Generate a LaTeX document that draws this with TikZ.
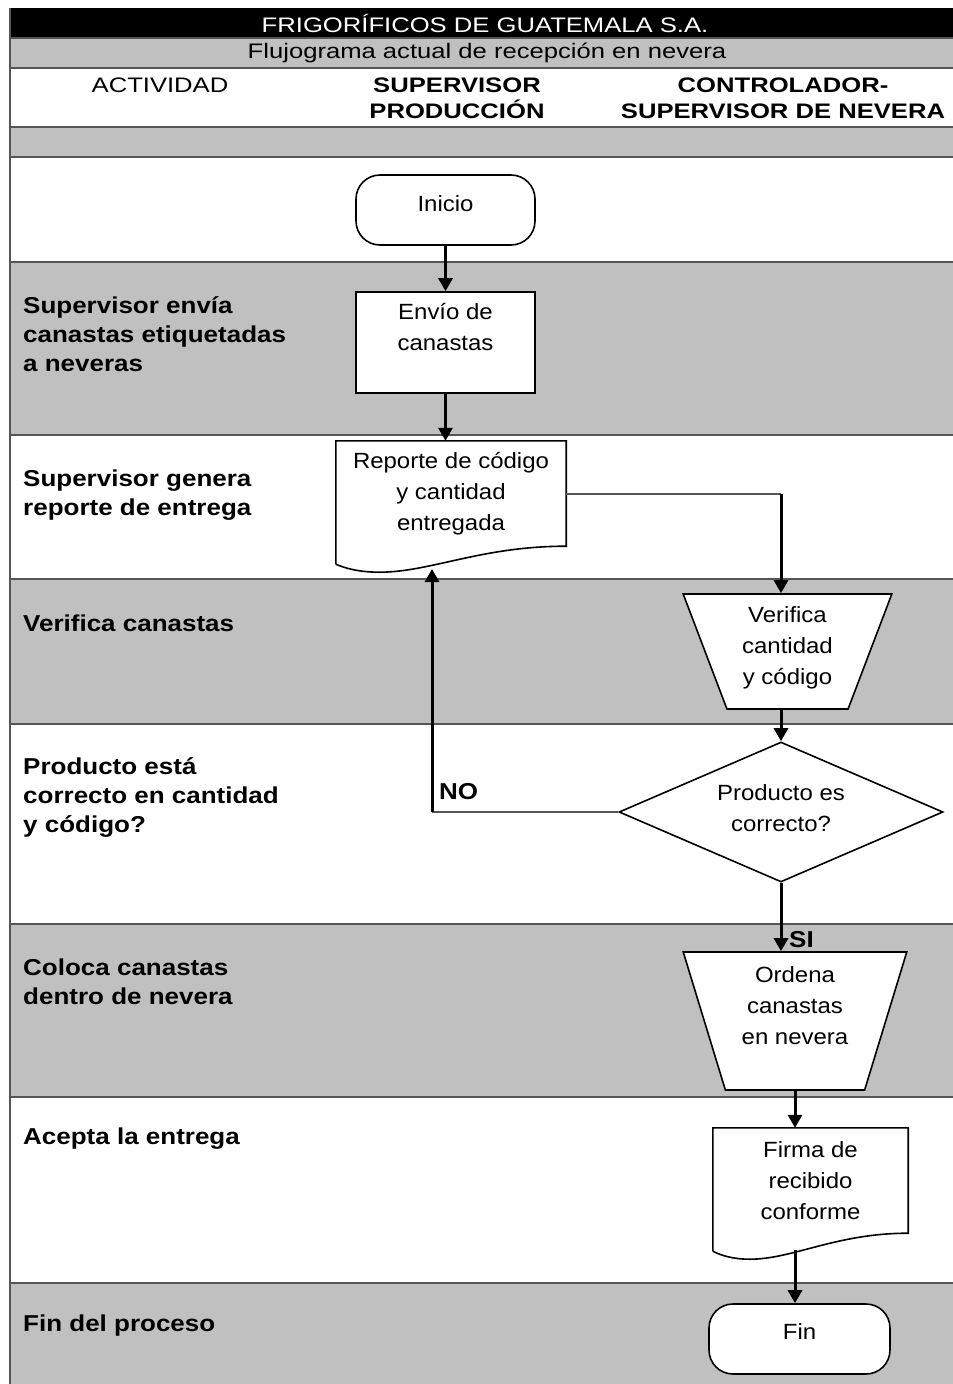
\documentclass[tikz,border=0pt]{standalone}
\usepackage{fontspec}
\setmainfont{Liberation Sans}
\newfontfamily\headFont[FakeStretch=1.22]{Liberation Sans}
\newfontfamily\actFont[FakeStretch=1.13]{Liberation Sans}
\newfontfamily\boxFont[FakeStretch=1.09]{Liberation Sans}
\usetikzlibrary{calc,arrows.meta,shapes.geometric}
\definecolor{rowGray}{RGB}{192,192,192}
\definecolor{ruleGray}{RGB}{85,85,85}
\newcommand{\DocOutline}[1]{%
  \draw[shapeline] ($(#1.south west)+(0,18)$) -- (#1.north west) -- (#1.north east) -- (#1.south east)
    .. controls ($(#1.south west)!0.63!(#1.south east)$) and ($(#1.south west)!0.41!(#1.south east)+(0,26)$)
    .. ($(#1.south west)!0.19!(#1.south east)+(0,26)$)
    .. controls ($(#1.south west)!0.1!(#1.south east)+(0,26)$) and ($(#1.south west)!0.04!(#1.south east)+(0,22)$)
    .. ($(#1.south west)+(0,18)$);}
\newcommand{\LiftText}[1]{\\[#1]~}

\begin{document}
\begin{tikzpicture}[x=1pt,y=-1pt,
  rowrule/.style={draw=ruleGray,line width=2pt},
  shapeline/.style={draw=black,line width=1.6pt},
  boxtext/.style={font=\boxFont\fontsize{22}{31}\selectfont,align=center,inner sep=0pt},
  termbox/.style={boxtext,shapeline,fill=white,rounded corners=24pt},
  procbox/.style={boxtext,shapeline,fill=white},
  doctext/.style={boxtext,fill=white},
  inbox/.style={boxtext,shapeline,fill=white,trapezium,shape border rotate=180,trapezium stretches=true},
  askbox/.style={boxtext,shapeline,fill=white,diamond,aspect=2.3},
  actlabel/.style={font=\actFont\bfseries\fontsize{23}{29}\selectfont,align=left,anchor=north west,inner sep=0pt},
  headtext/.style={font=\headFont\fontsize{21}{26}\selectfont,align=center,inner sep=0pt},
  headbold/.style={headtext,font=\headFont\bfseries\fontsize{21}{26}\selectfont},
  flow/.style={line width=3pt,-{Triangle[length=13pt,width=14pt]}},
  link/.style={draw=ruleGray,line width=2pt}]
\useasboundingbox (0,0) rectangle (953,1384);
\fill[white] (0,0) rectangle (953,1384);
% table rows
\fill[black] (10,8) rectangle (953,38);
\foreach \top/\bot in {38/68,127/157,262/435,579/724,924/1097,1283/1384}
  \fill[rowGray] (10,\top) rectangle (953,\bot);
\foreach \y in {38,68,127,157,262,435,579,724,924,1097,1283}
  \draw[rowrule] (10,\y) -- (953,\y);
\draw[rowrule] (10,8) -- (10,1384);

% headings
\node[headtext,text=white] (title) at (485,23) {FRIGORÍFICOS DE GUATEMALA S.A.};
\node[headtext] (subtitle) at (487,53) {Flujograma actual de recepción en nevera};
\node[headtext] (hdAct) at (160,85) {ACTIVIDAD};
\node[headbold] (hdSup) at (457,98) {SUPERVISOR\\PRODUCCIÓN};
\node[headbold] (hdCtl) at (783,98) {CONTROLADOR-\\SUPERVISOR DE NEVERA};

% activities
\node[actlabel] (actEnvio) at (23,296) {Supervisor envía\\canastas etiquetadas\\a neveras};
\node[actlabel] (actReporte) at (23,470) {Supervisor genera\\reporte de entrega};
\node[actlabel] (actVerifica) at (23,615) {Verifica canastas};
\node[actlabel] (actCorrecto) at (23,757) {Producto está\\correcto en cantidad\\y código?};
\node[actlabel] (actColoca) at (23,959) {Coloca canastas\\dentro de nevera};
\node[actlabel] (actAcepta) at (23,1128) {Acepta la entrega};
\node[actlabel] (actFin) at (23,1315) {Fin del proceso};

% flow shapes
\node[termbox,minimum width=179,minimum height=70] (ini) at (445.5,210) {Inicio\LiftText{-19pt}};
\node[procbox,minimum width=179,minimum height=101] (env) at (445.5,342.5) {Envío de\\canastas\\~};
\node[doctext,minimum width=230,minimum height=105] (rep) at (451,493.5) {Reporte de código\\y cantidad\\entregada};
\DocOutline{rep}
\node[inbox,trapezium left angle=70,trapezium right angle=70,minimum width=209,minimum height=115] (ver) at (787.5,651.5) {Verifica\\cantidad\\y código\LiftText{-19pt}};
\node[askbox,minimum width=324,minimum height=140] (dia) at (781,812) {Producto es\\correcto?\LiftText{-23pt}};
\node[inbox,trapezium left angle=73.5,trapezium right angle=73.5,minimum width=224,minimum height=138] (ord) at (795,1021) {Ordena\\canastas\\en nevera\\~};
\node[doctext,minimum width=195,minimum height=105] (fir) at (810.5,1180.5) {Firma de\\recibido\\conforme};
\DocOutline{fir}
\node[termbox,minimum width=181,minimum height=70] (fin) at (799.5,1339) {Fin\LiftText{-17pt}};

% connectors
\coordinate (repIn) at (432,569);
\coordinate (firOut) at ($(ord.south |- fir.south)+(0,17)$);
\draw[flow] (ini.south) -- (ini.south |- env.north);
\draw[flow] (env.south) -- (env.south |- rep.north);
\draw[link] (rep.east) -- (rep.east -| dia.north) coordinate (repBend);
\draw[flow] (repBend) -- (repBend |- ver.north);
\draw[flow] (ver.south -| dia.north) -- (dia.north);
\draw[link] (dia.west) -- (dia.west -| repIn) coordinate (noBend);
\draw[flow] (noBend) -- (repIn);
\node[actlabel,anchor=south west] (noLabel) at ($(noBend)+(7,-12)$) {NO};
\draw[flow] (dia.south) -- (dia.south |- ord.north);
\node[actlabel,anchor=south west] (siLabel) at ($(dia.south |- ord.north)+(8,-3)$) {SI};
\draw[flow] (ord.south) -- (ord.south |- fir.north);
\draw[flow] (firOut) -- (firOut |- fin.north);
\end{tikzpicture}
\end{document}
